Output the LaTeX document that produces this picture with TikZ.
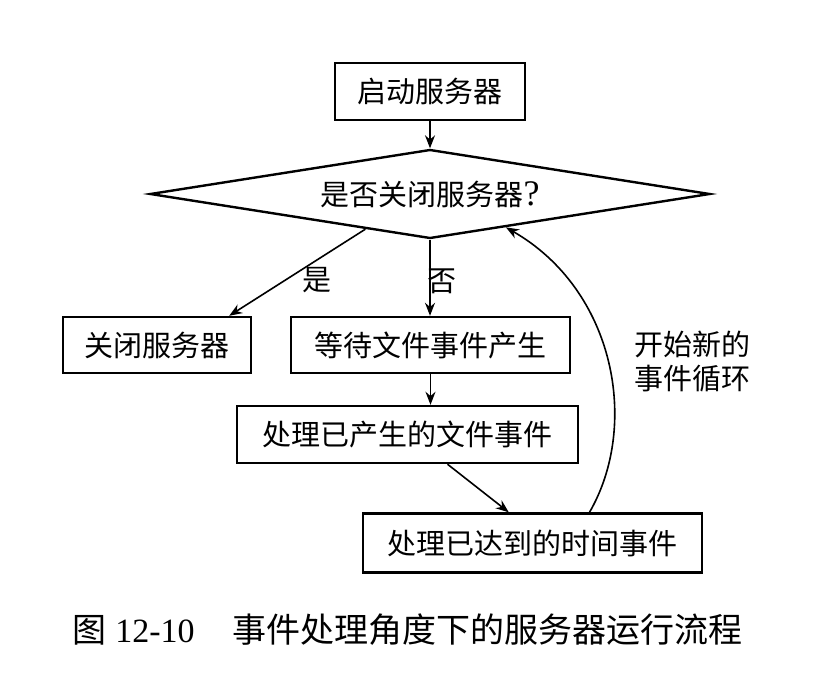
\documentclass[tikz,border=0pt]{standalone}
\usepackage{fontspec}
\setmainfont{Liberation Serif}
\newfontfamily\cjk{Noto Sans CJK SC}
\usetikzlibrary{shapes.geometric,arrows.meta,calc}
\tikzset{
  box/.style={draw,line width=2.4pt,inner sep=0pt,font=\fontsize{29}{34}\selectfont\cjk},
  flow/.style={line width=1.6pt,-{Stealth[length=13pt,width=10pt]}},
  lbl/.style={font=\fontsize{29}{34}\selectfont\cjk,inner sep=0pt}
}
\begin{document}
\begin{tikzpicture}[x=1pt,y=-1pt]
                \useasboundingbox (0,0) rectangle (837,672);
                \node[box,minimum width=190pt,minimum height=57pt] (start) at (430,91.5) {启动服务器};
                \node[box,shape=diamond,aspect=6.3,minimum width=560pt,minimum height=89pt] (ask) at (430,194) {是否关闭服务器{\rmfamily\fontsize{36}{36}\selectfont ?}};
                \node[box,minimum width=188pt,minimum height=56pt] (close) at (157,345) {关闭服务器};
                \node[box,minimum width=279pt,minimum height=56pt] (wait) at (430.5,345) {等待文件事件产生};
                \node[box,minimum width=341pt,minimum height=57pt] (file) at (407.5,434.5) {处理已产生的文件事件};
                \node[box,minimum width=339pt,minimum height=59pt] (timer) at (532.5,543) {处理已达到的时间事件};
                \node[lbl] (yes) at (317,280) {是};
                \node[lbl] (no) at (442,281) {否};
                \draw[flow] (start) -- (ask);
                \draw[flow] ($(ask.west)!0.77!(ask.south)$) -- ($(close.north east)+(-23,0)$);
                \draw[flow] (ask.south) -- (ask.south |- wait.north);
                \draw[flow] (wait.south) -- (wait.south |- file.north);
                \draw[flow] ($(file.south)+(40,0)$) -- ($(timer.north west)+(147,0)$);
                \draw[flow] ($(timer.north)+(57,0)$) .. controls (640,425) and (615,290) .. ($(ask.east)!0.73!(ask.south)$);
                \node[lbl,align=left] (note) at (692,362) {开始新的\\事件循环};
                \node[font=\fontsize{34}{38}\selectfont,inner sep=0pt] (cap) at (407.5,630) {{\cjk 图} 12-10\hspace{1.1em}{\cjk 事件处理角度下的服务器运行流程}};
\end{tikzpicture}
\end{document}
